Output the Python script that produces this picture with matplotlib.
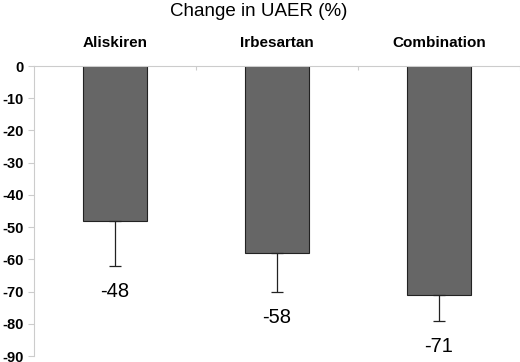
import numpy as np
import matplotlib.pyplot as plt

plt.rcParams['font.family'] = ['Liberation Sans', 'DejaVu Sans']

groups = ['Aliskiren', 'Irbesartan', 'Combination']
change = [-48, -58, -71]
err = [14, 12, 8]
labels = ['-48', '-58', '-71']

fig = plt.figure(figsize=(5.2, 3.62), dpi=100)
ax = fig.add_axes([34/520, 1-356/362, 1-34/520, (356-66)/362])

x = np.arange(len(groups))
ax.bar(x, change, width=0.4, color='#666666', edgecolor='#222222', linewidth=0.8, zorder=2)
ax.errorbar(x, change, yerr=[err, [0]*3], fmt='none', ecolor='#222222',
            elinewidth=0.9, capsize=4, capthick=0.9, zorder=3)
for xi, v, e, t in zip(x, change, err, labels):
    ax.text(xi, v - e - 8, t, ha='center', va='center', fontsize=14.5)

ax.set_xlim(-0.5, 2.5)
ax.set_ylim(-90, 0)
ax.set_yticks(range(0, -91, -10))
ax.set_yticklabels([str(v) for v in range(0, -91, -10)], fontweight='bold', fontsize=10.5)
ax.tick_params(axis='y', color='#cccccc', length=4.5, pad=3)

ax.xaxis.tick_top()
ax.set_xticks([0.5, 1.5, 2.5])
ax.set_xticklabels([])
ax.tick_params(axis='x', color='#cccccc', length=3, direction='in')
for xi, g in zip(x, groups):
    ax.text(xi, 1.08, g, transform=ax.get_xaxis_transform(), ha='center',
            va='center', fontsize=11, fontweight='bold')

for s in ['right', 'bottom']:
    ax.spines[s].set_visible(False)
ax.spines['left'].set_color('#cccccc')
ax.spines['top'].set_color('#cccccc')

fig.text(0.497, 1-12/362, 'Change in UAER (%)', ha='center', va='center', fontsize=13.5)

fig.savefig('out.png', dpi=100)
